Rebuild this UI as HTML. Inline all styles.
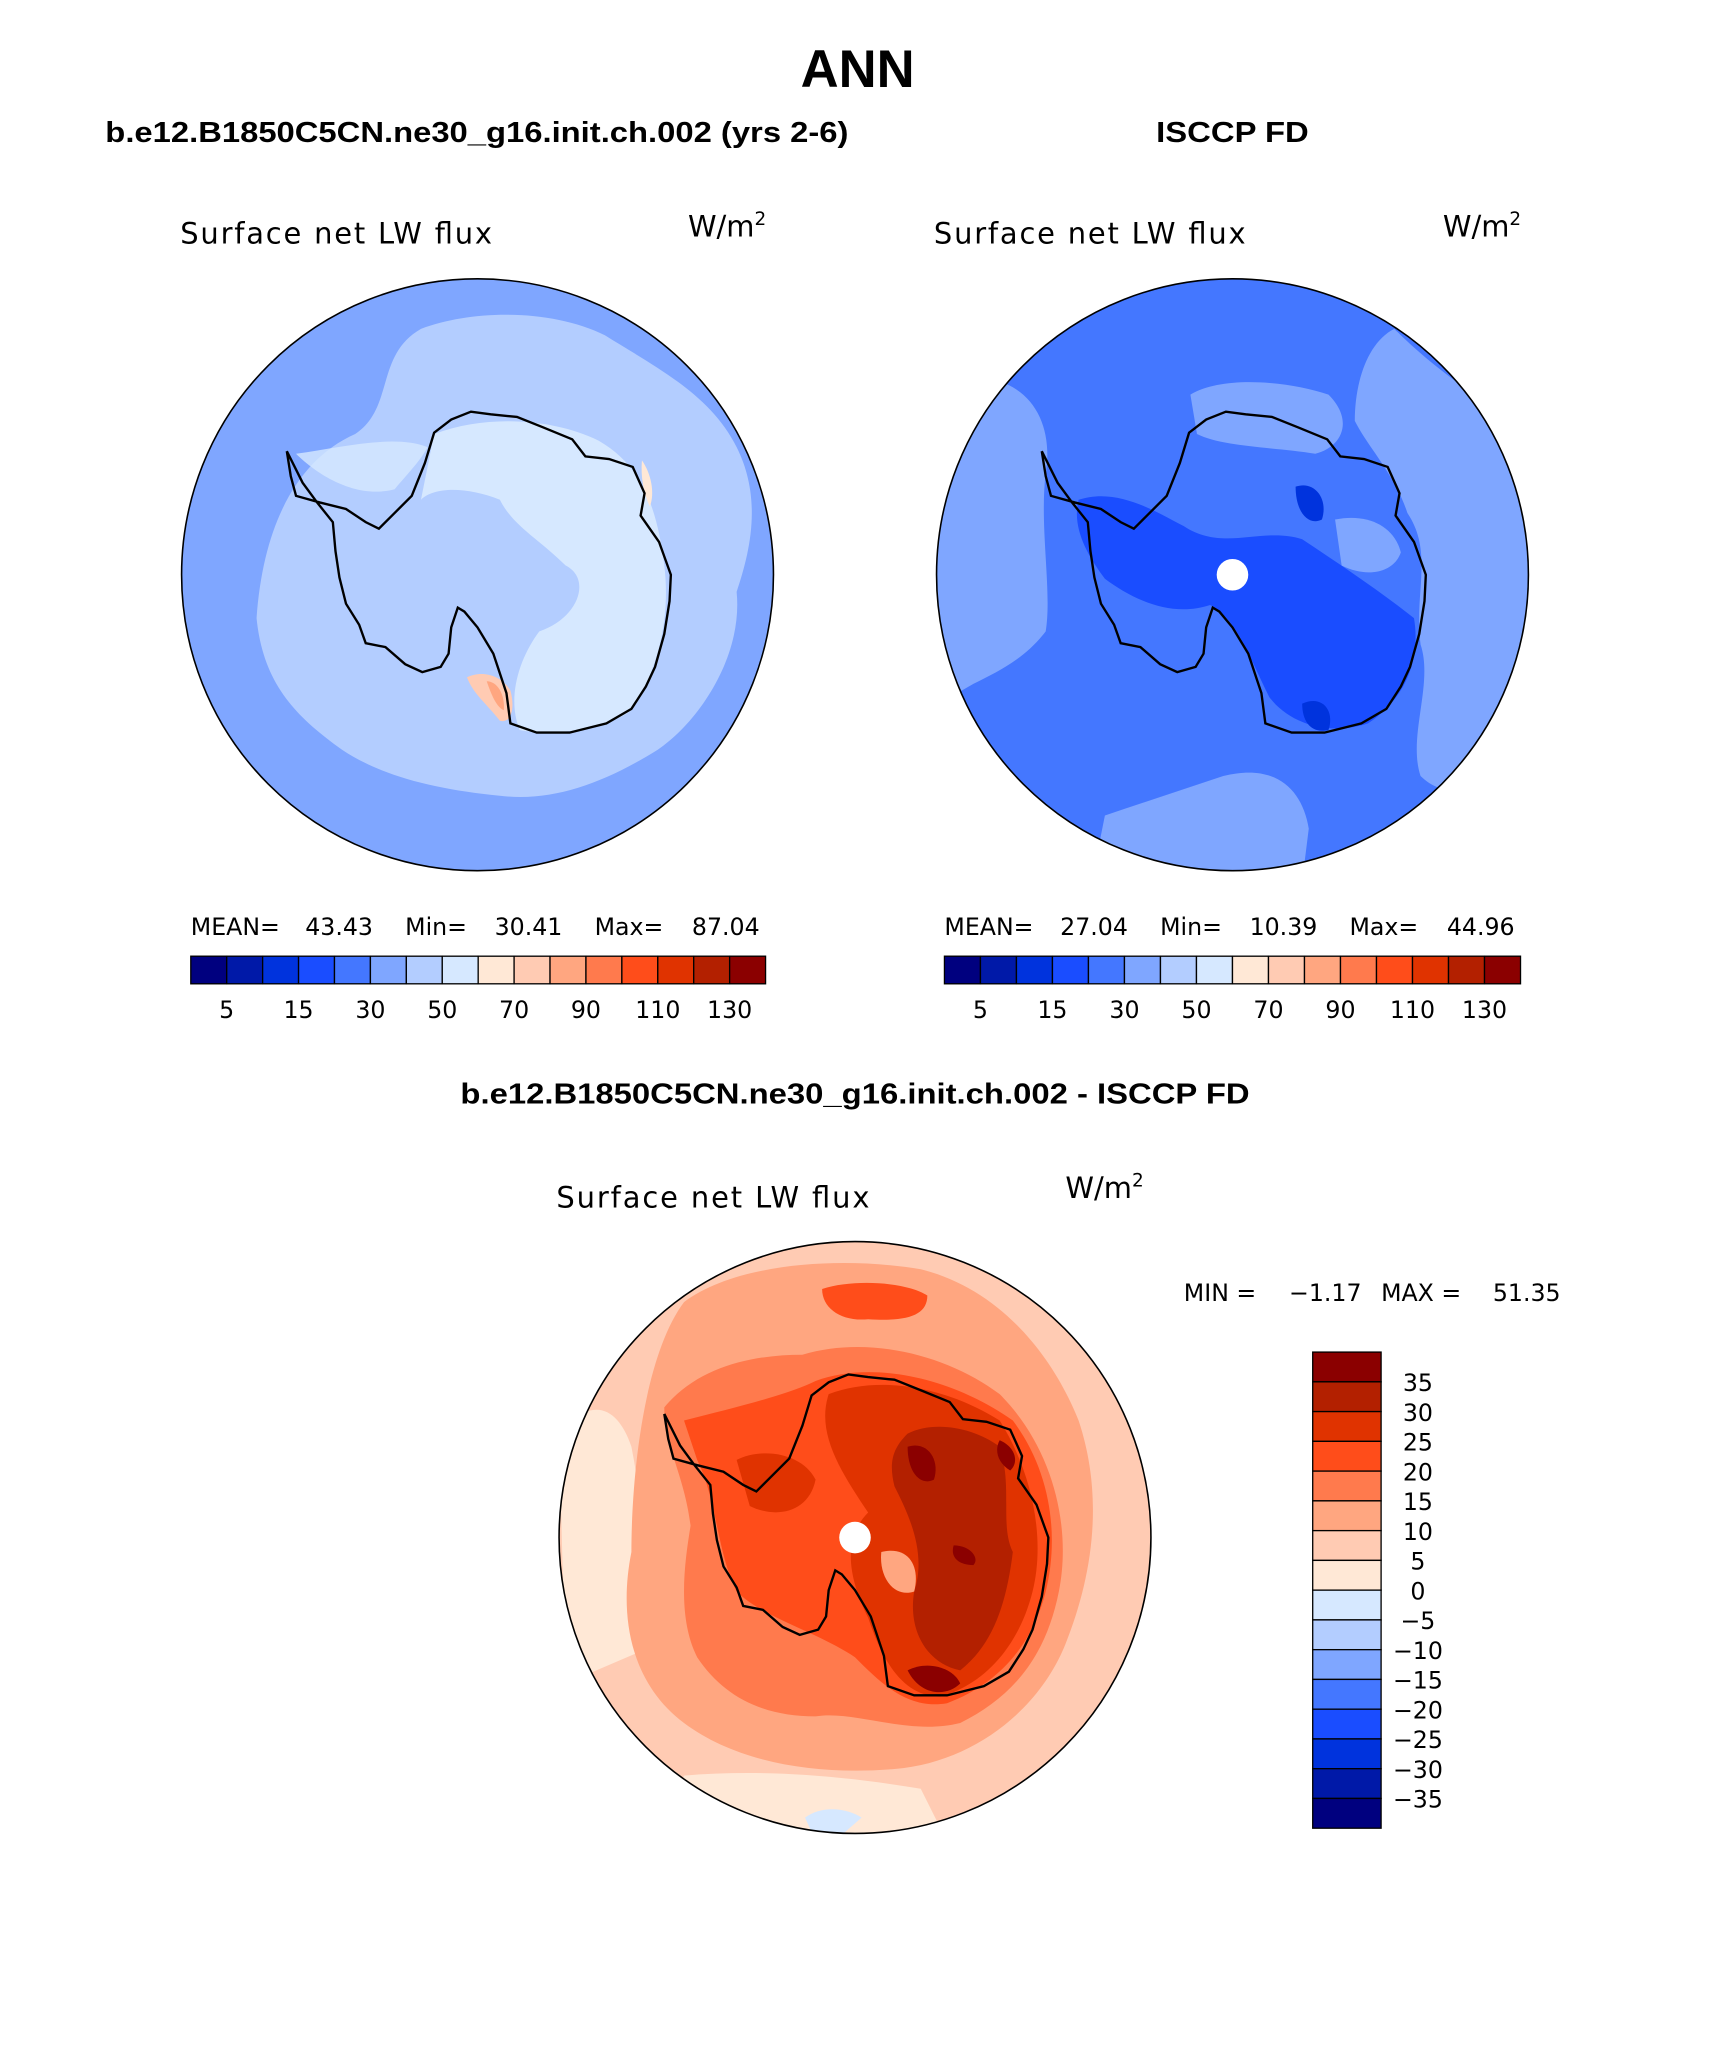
<!DOCTYPE html>
<html><head><meta charset="utf-8"><style>
html,body{margin:0;padding:0;background:#fff}
svg{display:block}
text{font-family:"Liberation Sans","DejaVu Sans",sans-serif}
text.t,.t text{font-family:"DejaVu Sans","Liberation Sans",sans-serif;font-weight:normal}
</style></head><body>
<svg id="fig" width="1710" height="2061" viewBox="0 0 1300 1567" xmlns="http://www.w3.org/2000/svg">
<defs>
<clipPath id="c1"><circle cx="363" cy="437" r="225"/></clipPath>
<clipPath id="c2"><circle cx="937" cy="437" r="225"/></clipPath>
<clipPath id="c3"><circle cx="650" cy="1169" r="225"/></clipPath>
</defs>
<text x="652" y="66" font-size="40" font-weight="bold" text-anchor="middle">ANN</text>
<text x="80" y="108" font-size="22" font-weight="bold" textLength="565" lengthAdjust="spacingAndGlyphs">b.e12.B1850C5CN.ne30_g16.init.ch.002 (yrs 2-6)</text>
<text x="879" y="108" font-size="22" font-weight="bold" textLength="116" lengthAdjust="spacingAndGlyphs">ISCCP FD</text>
<text x="350" y="839" font-size="22" font-weight="bold" textLength="600" lengthAdjust="spacingAndGlyphs">b.e12.B1850C5CN.ne30_g16.init.ch.002 - ISCCP FD</text>

<g class="t" fill="#000" font-size="22">
<text x="137" y="185" textLength="237" lengthAdjust="spacing">Surface net LW flux</text>
<text x="523" y="180">W/m<tspan font-size="14" dy="-9">2</tspan></text>
<text x="710" y="185" textLength="237" lengthAdjust="spacing">Surface net LW flux</text>
<text x="1097" y="180">W/m<tspan font-size="14" dy="-9">2</tspan></text>
<text x="423" y="918" textLength="238" lengthAdjust="spacing">Surface net LW flux</text>
<text x="810" y="911">W/m<tspan font-size="14" dy="-9">2</tspan></text>
<g font-size="18" xml:space="preserve">
<text y="711"><tspan x="145">MEAN=</tspan><tspan x="232">43.43</tspan><tspan x="308">Min=</tspan><tspan x="376">30.41</tspan><tspan x="452">Max=</tspan><tspan x="526">87.04</tspan></text>
<text y="711"><tspan x="718">MEAN=</tspan><tspan x="806">27.04</tspan><tspan x="882">Min=</tspan><tspan x="950">10.39</tspan><tspan x="1026">Max=</tspan><tspan x="1100">44.96</tspan></text>
<text y="989"><tspan x="900">MIN =</tspan><tspan x="980">−1.17</tspan><tspan x="1050">MAX =</tspan><tspan x="1135">51.35</tspan></text>
</g>
</g>

<!-- Left map -->
<g clip-path="url(#c1)">
<rect x="130" y="200" width="470" height="470" fill="#7fa6ff"/>
<path fill="#b3cdff" d="M195,470 C200,400 225,350 270,330 C300,310 285,270 320,250 C360,235 420,235 460,255 C500,280 540,300 560,340 C580,380 570,420 560,450 C565,500 530,550 500,570 C460,595 420,610 380,605 C330,600 290,590 260,570 C225,545 200,520 195,470 Z"/>
<path fill="#d6e8ff" d="M330,330 C370,315 420,318 455,335 C490,355 500,390 505,430 C510,470 500,510 480,540 C460,555 420,560 395,555 C385,530 395,500 410,480 C440,470 450,440 430,430 C410,410 390,400 380,380 C355,370 330,370 320,380 Z"/>
<path fill="#d6e8ff" d="M225,345 C240,360 270,380 300,372 C310,360 320,350 325,340 C300,330 260,340 225,345Z" opacity="0.8"/>
<path fill="#ffcbb3" d="M355,515 C365,510 380,512 388,525 C392,540 388,550 380,548 C370,535 360,528 355,515Z"/>
<path fill="#ffa680" d="M370,518 C378,518 384,528 383,540 C378,538 374,530 370,518Z"/>
<path fill="#ffe8d6" d="M488,350 C495,360 498,375 494,385 C489,375 487,362 488,350Z"/>
</g>

<!-- Right map -->
<g clip-path="url(#c2)">
<rect x="700" y="200" width="480" height="480" fill="#4477ff"/>
<path fill="#7fa6ff" d="M705,300 L760,290 C790,300 800,330 795,360 C790,400 800,450 795,480 C780,500 760,510 740,520 L705,540 Z"/>
<path fill="#7fa6ff" d="M1060,250 C1090,280 1120,300 1165,330 L1170,600 C1130,600 1100,610 1080,590 C1070,560 1090,520 1080,490 C1075,450 1090,420 1070,390 C1060,360 1040,340 1030,320 C1030,290 1040,260 1060,250Z"/>
<path fill="#7fa6ff" d="M840,620 C870,610 900,600 930,590 C970,580 990,600 995,630 L990,670 L830,670 Z"/>
<path fill="#7fa6ff" d="M905,300 C930,285 980,290 1010,300 C1030,320 1020,340 1000,345 C970,340 930,340 910,330 Z"/>
<path fill="#1a4dff" d="M820,380 C850,370 880,390 900,400 C930,420 960,400 990,410 C1020,430 1050,450 1075,470 C1080,500 1070,530 1040,550 C1010,560 980,550 965,530 C950,500 940,470 920,460 C890,470 860,455 840,440 C825,420 815,400 820,380Z"/>
<path fill="#0033dd" d="M985,370 C1000,365 1010,380 1005,395 C995,400 985,390 985,370Z"/>
<path fill="#0033dd" d="M990,535 C1005,528 1015,540 1010,555 C998,558 990,550 990,535Z"/>
<path fill="#7fa6ff" d="M1015,395 C1040,390 1060,400 1065,420 C1060,435 1040,440 1020,430 Z"/>
</g>

<!-- Difference map -->
<g clip-path="url(#c3)">
<rect x="420" y="940" width="460" height="460" fill="#ffcbb3"/>
<path fill="#ffe8d6" d="M425,1090 C450,1060 470,1070 480,1100 C490,1150 490,1200 500,1250 L430,1280 Z"/>
<path fill="#ffe8d6" d="M520,1350 C580,1345 640,1350 700,1360 L720,1400 L500,1400 Z"/>
<path fill="#d6e8ff" d="M612,1382 C625,1372 645,1375 655,1382 L640,1395 L618,1395 Z"/>
<path fill="#ffa680" d="M520,990 C560,960 640,955 700,965 C760,980 800,1030 820,1080 C840,1140 830,1200 810,1250 C790,1300 740,1340 680,1345 C620,1350 560,1340 520,1310 C480,1280 470,1230 480,1180 C480,1120 490,1030 520,990Z"/>
<path fill="#ff7a4d" d="M505,1070 C530,1040 570,1030 610,1030 C660,1015 720,1030 760,1060 C800,1100 815,1160 805,1210 C795,1260 770,1290 730,1310 C690,1320 650,1300 620,1305 C580,1305 550,1290 530,1260 C515,1230 520,1190 525,1160 C520,1120 505,1100 505,1070Z"/>
<path fill="#ff4d1a" d="M625,980 C650,972 690,975 705,985 C705,1000 690,1005 660,1003 C640,1005 625,995 625,980Z"/>
<path fill="#ff4d1a" d="M520,1080 C560,1070 600,1060 620,1050 C660,1035 720,1045 770,1080 C800,1120 805,1170 795,1210 C785,1250 760,1280 720,1295 C690,1300 670,1280 650,1260 C620,1240 580,1230 560,1210 C545,1180 545,1140 530,1110 Z"/>
<path fill="#e03300" d="M630,1060 C670,1045 720,1055 760,1080 C785,1120 795,1170 785,1210 C775,1250 750,1280 715,1290 C685,1290 670,1260 660,1230 C645,1200 640,1170 660,1150 C640,1120 620,1090 630,1060Z"/>
<path fill="#e03300" d="M560,1110 C580,1100 610,1105 620,1125 C615,1150 590,1155 570,1145 Z"/>
<path fill="#b32000" d="M690,1090 C710,1080 740,1085 760,1100 C770,1130 760,1160 770,1180 C765,1220 755,1250 730,1270 C705,1265 690,1240 695,1210 C705,1180 690,1150 680,1130 C675,1110 680,1100 690,1090Z"/>
<path fill="#8b0000" d="M690,1100 C705,1095 715,1110 710,1125 C700,1130 690,1120 690,1100Z"/>
<path fill="#8b0000" d="M760,1095 C772,1100 775,1112 768,1118 C758,1112 756,1102 760,1095Z"/>
<path fill="#8b0000" d="M690,1270 C705,1262 725,1268 730,1280 C720,1290 700,1290 690,1270Z"/>
<path fill="#8b0000" d="M725,1175 C738,1175 745,1185 740,1190 C730,1190 722,1185 725,1175Z"/>
<path fill="#ffa680" d="M670,1180 C690,1175 700,1190 695,1210 C680,1215 668,1200 670,1180Z"/>
</g>

<g id="coasts"></g>

<circle cx="363" cy="437" r="225" fill="none" stroke="#000" stroke-width="1.2"/>
<circle cx="937" cy="437" r="225" fill="none" stroke="#000" stroke-width="1.2"/>
<circle cx="650" cy="1169" r="225" fill="none" stroke="#000" stroke-width="1.2"/>
<circle cx="937" cy="437" r="12" fill="#fff"/>
<circle cx="650" cy="1169" r="12" fill="#fff"/>

<g id="cbars"></g>
</svg>
<script>
const absColors = ["#00007f","#0019a8","#0033dd","#1a4dff","#4477ff","#7fa6ff","#b3cdff","#d6e8ff","#ffe8d6","#ffcbb3","#ffa680","#ff7a4d","#ff4d1a","#e03300","#b32000","#8b0000"];
const absLevels = [5,10,15,20,30,40,50,60,70,80,90,100,110,120,130];
const absTickLabels = ["5","","15","","30","","50","","70","","90","","110","","130"];
const diffLevels = [35,30,25,20,15,10,5,0,-5,-10,-15,-20,-25,-30,-35];
const diffTickLabels = ["35","30","25","20","15","10","5","0","\u22125","\u221210","\u221215","\u221220","\u221225","\u221230","\u221235"];
const coastOffsets = [[-145,-94],[-142,-75],[-138,-60],[-120,-55],[-100,-50],[-85,-40],[-75,-35],[-65,-45],[-50,-60],[-40,-85],[-33,-108],[-20,-118],[-5,-124],[10,-122],[30,-120],[50,-112],[72,-103],[82,-90],[100,-88],[118,-82],[127,-62],[124,-45],[138,-25],[147,0],[146,20],[142,45],[135,70],[128,85],[117,102],[98,113],[70,120],[45,120],[25,113],[22,90],[12,60],[0,40],[-10,28],[-15,25],[-20,40],[-22,60],[-28,70],[-42,74],[-55,68],[-70,55],[-85,52],[-90,38],[-100,22],[-105,2],[-108,-18],[-110,-40],[-122,-55],[-133,-70],[-145,-94]];
const svgNS="http://www.w3.org/2000/svg";
const cb=document.getElementById('cbars');
function mk(tag,attrs){const e=document.createElementNS(svgNS,tag);for(const k in attrs)e.setAttribute(k,attrs[k]);return e;}
const centers=[[363,437],[937,437],[650,1169]];
const coasts=document.getElementById('coasts');
centers.forEach(function(c){
  const p=mk('polyline',{points:coastOffsets.map(o=>(c[0]+o[0])+','+(c[1]+o[1])).join(' '),fill:'none',stroke:'#000','stroke-width':1.8});
  
  
  coasts.appendChild(p);
});
function hbar(x0,x1,y0,y1,label){
  const n=absColors.length,w=(x1-x0)/n;
  absColors.forEach(function(col,i){
    const r=mk('rect',{x:x0+i*w,y:y0,width:w,height:y1-y0,fill:col,stroke:'#000','stroke-width':1});
    
    
    cb.appendChild(r);
  });
  absLevels.forEach(function(v,i){
    if(!absTickLabels[i])return;
    const t=mk('text',{x:x0+(i+1)*w,y:y1+26,'font-size':18,'text-anchor':'middle','class':'t'});
    t.textContent=absTickLabels[i];
    
    
    cb.appendChild(t);
  });
}
hbar(145,582,727,748,'left');
hbar(718,1156,727,748,'right');
(function(){
  const x0=998,x1=1050,y0=1028,y1=1390,n=absColors.length,h=(y1-y0)/n;
  absColors.slice().reverse().forEach(function(col,i){
    const r=mk('rect',{x:x0,y:y0+i*h,width:x1-x0,height:h,fill:col,stroke:'#000','stroke-width':1});
    
    
    cb.appendChild(r);
  });
  diffLevels.forEach(function(v,i){
    const t=mk('text',{x:1078,y:y0+(i+1)*h+7,'font-size':18,'text-anchor':'middle','class':'t'});
    t.textContent=diffTickLabels[i];
    
    
    cb.appendChild(t);
  });
})();
</script>
</body></html>
